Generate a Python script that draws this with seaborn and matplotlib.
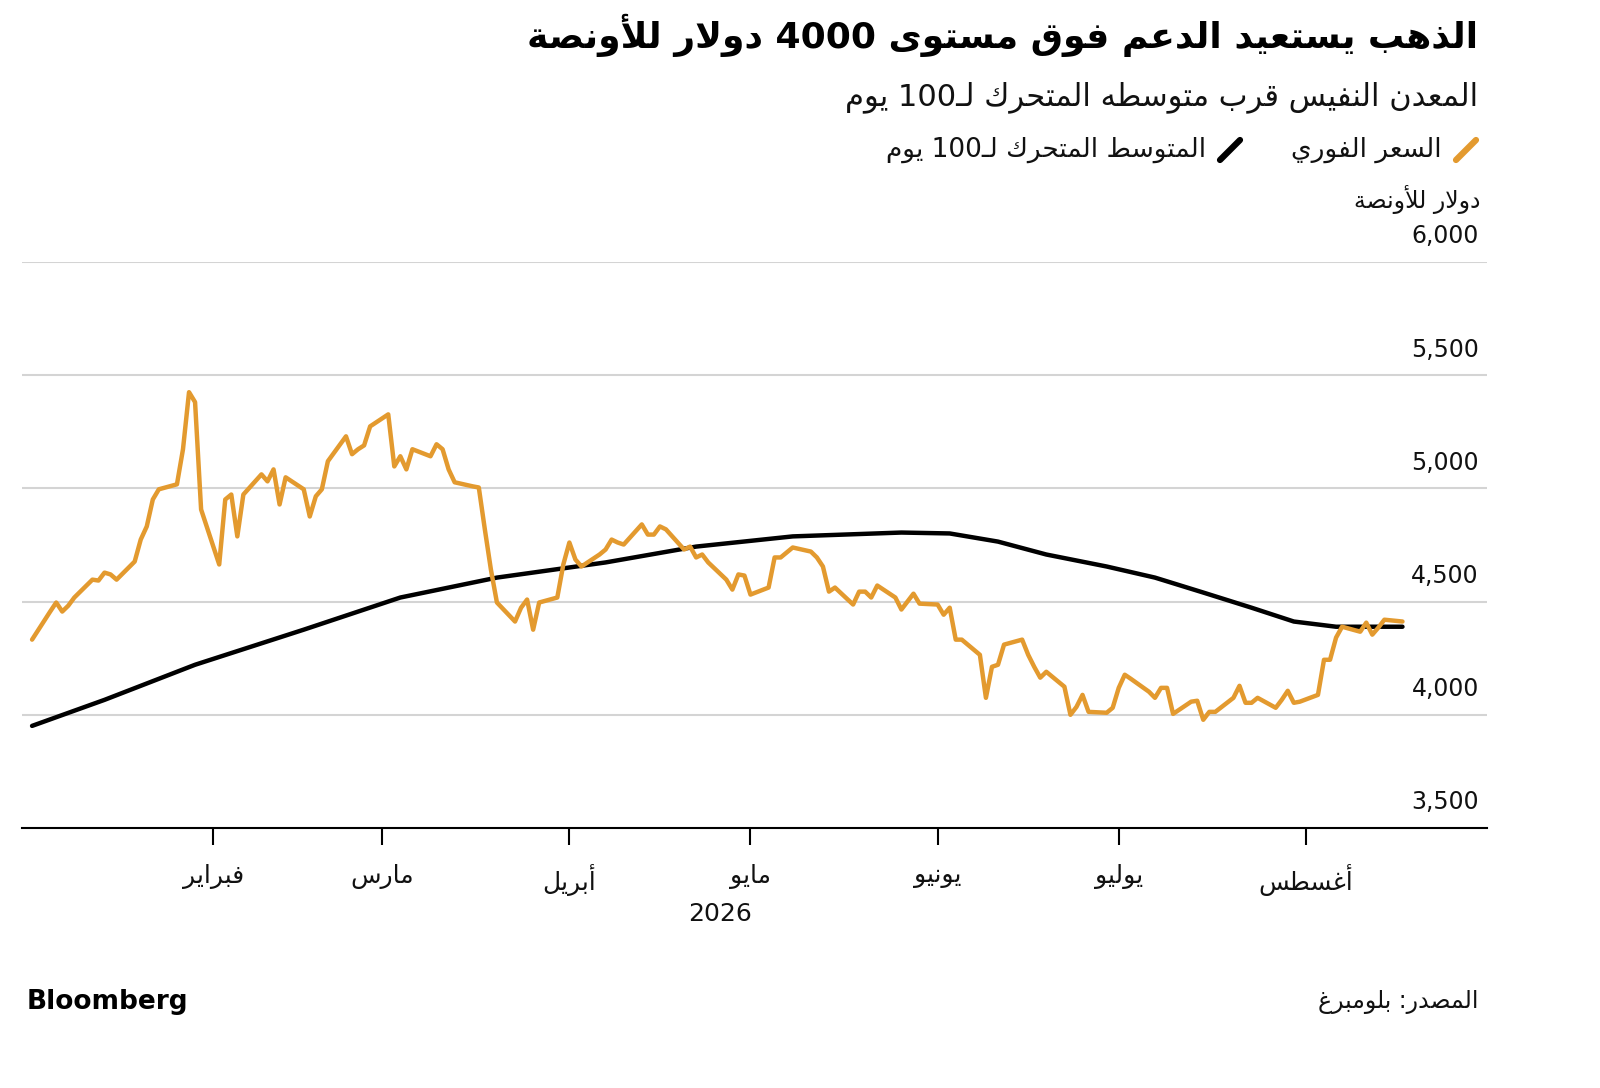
import re
import matplotlib
matplotlib.use("Agg")
import matplotlib.pyplot as plt
from matplotlib.lines import Line2D
import seaborn as sns
import pandas as pd

# Data
###############################################################################

spot = [4332, 4456, 4496, 4456, 4482, 4518, 4597, 4593, 4628, 4620,
        4597, 4677, 4774, 4832, 4951, 4996, 5018, 5173, 5425, 5381,
        4907, 4664, 4951, 4973, 4788, 4973, 5062, 5031, 5084, 4929,
        5049, 4996, 4876, 4965, 4996, 5120, 5230, 5151, 5173, 5190,
        5274, 5327, 5097, 5142, 5084, 5173, 5142, 5195, 5173, 5084,
        5027, 5009, 5004, 4819, 4642, 4496, 4412, 4473, 4509, 4376,
        4496, 4518, 4664, 4761, 4686, 4655, 4708, 4730, 4774, 4761,
        4752, 4841, 4796, 4796, 4832, 4819, 4730, 4743, 4695, 4708,
        4673, 4597, 4553, 4620, 4615, 4531, 4562, 4695, 4695, 4717,
        4739, 4721, 4695, 4655, 4544, 4562, 4487, 4544, 4544, 4518,
        4571, 4518, 4465, 4500, 4535, 4491, 4487, 4442, 4473, 4332,
        4332, 4265, 4075, 4212, 4221, 4310, 4332, 4265, 4212, 4164,
        4190, 4124, 4000, 4035, 4088, 4013, 4009, 4031, 4119, 4177,
        4159, 4102, 4075, 4119, 4119, 4004, 4058, 4062, 3978, 4013,
        4013, 4075, 4128, 4053, 4053, 4075, 4031, 4066, 4106, 4053,
        4058, 4088, 4243, 4243, 4341, 4389, 4367, 4407, 4354, 4385,
        4420, 4412]
ma_idx = [0, 8, 19, 31, 43, 55, 67, 78, 90, 102, 108, 114, 120, 126, 132,
          138, 144, 149, 154, 161]
ma_vals = [3951, 4066, 4221, 4376, 4518, 4606, 4673, 4743, 4788, 4805,
           4801, 4765, 4708, 4655, 4606, 4540, 4473, 4412, 4389, 4389]
months = ['فبراير', 'مارس', 'أبريل', 'مايو', 'يونيو', 'يوليو', 'أغسطس']
month_starts = ['2026-02-01', '2026-03-01', '2026-04-01', '2026-05-01',
                '2026-06-01', '2026-07-01', '2026-08-01']
yticks = [3500, 4000, 4500, 5000, 5500, 6000]

dates = pd.bdate_range('2026-01-02', periods=len(spot))
df_spot = pd.DataFrame({'date': dates, 'price': spot})
df_ma = pd.DataFrame({'date': dates[ma_idx], 'price': ma_vals})

# Minimal Arabic shaping (no external reshaper available)
###############################################################################

FORMS = {
    'ا': (0xFE8D, 0xFE8E), 'أ': (0xFE83, 0xFE84), 'ة': (0xFE93, 0xFE94),
    'د': (0xFEA9, 0xFEAA), 'ذ': (0xFEAB, 0xFEAC), 'ر': (0xFEAD, 0xFEAE),
    'ز': (0xFEAF, 0xFEB0), 'و': (0xFEED, 0xFEEE), 'ى': (0xFEEF, 0xFEF0),
    'ب': (0xFE8F, 0xFE90, 0xFE91, 0xFE92), 'ت': (0xFE95, 0xFE96, 0xFE97, 0xFE98),
    'ح': (0xFEA1, 0xFEA2, 0xFEA3, 0xFEA4), 'س': (0xFEB1, 0xFEB2, 0xFEB3, 0xFEB4),
    'ص': (0xFEB9, 0xFEBA, 0xFEBB, 0xFEBC), 'ط': (0xFEC1, 0xFEC2, 0xFEC3, 0xFEC4),
    'ع': (0xFEC9, 0xFECA, 0xFECB, 0xFECC), 'غ': (0xFECD, 0xFECE, 0xFECF, 0xFED0),
    'ف': (0xFED1, 0xFED2, 0xFED3, 0xFED4), 'ق': (0xFED5, 0xFED6, 0xFED7, 0xFED8),
    'ك': (0xFED9, 0xFEDA, 0xFEDB, 0xFEDC), 'ل': (0xFEDD, 0xFEDE, 0xFEDF, 0xFEE0),
    'م': (0xFEE1, 0xFEE2, 0xFEE3, 0xFEE4), 'ن': (0xFEE5, 0xFEE6, 0xFEE7, 0xFEE8),
    'ه': (0xFEE9, 0xFEEA, 0xFEEB, 0xFEEC), 'ي': (0xFEF1, 0xFEF2, 0xFEF3, 0xFEF4),
}
LAMALEF = {'ا': (0xFEFB, 0xFEFC), 'أ': (0xFEF7, 0xFEF8)}


def ar(s):
    dual = lambda ch: (ch in FORMS and len(FORMS[ch]) == 4) or ch == 'ـ'
    is_ar = lambda ch: ch in FORMS or ch == 'ـ'
    out, i, n = [], 0, len(s)
    while i < n:
        c = s[i]
        pj = i > 0 and dual(s[i - 1])
        if c == 'ل' and i + 1 < n and s[i + 1] in LAMALEF:
            iso, fin = LAMALEF[s[i + 1]]
            out.append(chr(fin if pj else iso))
            i += 2
            continue
        if c in FORMS:
            f = FORMS[c]
            nj = len(f) == 4 and i + 1 < n and is_ar(s[i + 1])
            if pj and nj:
                out.append(chr(f[3]))
            elif pj:
                out.append(chr(f[1]))
            elif nj:
                out.append(chr(f[2]))
            else:
                out.append(chr(f[0]))
        else:
            out.append(c)
        i += 1
    tokens = re.findall(r'[0-9][0-9,.]*|.', ''.join(out))
    return ''.join(reversed(tokens))

# Plot
###############################################################################

sns.set_style('white')
plt.rcParams['font.family'] = ['DejaVu Sans']
orange = '#E39A2F'
ink = '#111111'

fig = plt.figure(figsize=(16, 10.88), dpi=100)
ax = fig.add_axes([22 / 1600, 1 - 828 / 1088, 1465 / 1600, 566 / 1088])

sns.lineplot(data=df_ma, x='date', y='price', ax=ax, color='black', lw=3.2)
sns.lineplot(data=df_spot, x='date', y='price', ax=ax, color=orange, lw=3.2)

ax.set_xlim(pd.Timestamp('2025-12-31 08:00'), pd.Timestamp('2026-08-31'))
ax.set_ylim(3500, 6000)
for v in yticks:
    if v > 3500:
        ax.axhline(v, color='#d4d4d4', lw=1.5, zorder=0)
    ax.text(0.9945, v + 60, f'{v:,}', transform=ax.get_yaxis_transform(),
            ha='right', va='bottom', fontsize=17, color=ink)
ax.set_yticks([])
for s in ['top', 'left', 'right']:
    ax.spines[s].set_visible(False)
ax.spines['bottom'].set_color('black')
ax.spines['bottom'].set_linewidth(1.5)
ax.set_xticks([pd.Timestamp(d) for d in month_starts])
ax.set_xticklabels([ar(m) for m in months], fontsize=18, color=ink)
ax.tick_params(axis='x', bottom=True, direction='out', length=12, width=1.5,
               pad=14, color='black')
ax.set_xlabel('')
ax.set_ylabel('')
ax.text(pd.Timestamp('2026-04-26'), -0.13, '2026', transform=ax.get_xaxis_transform(),
        ha='center', va='top', fontsize=18, color=ink)

# Titles, legend, footer
fig.text(1478 / 1600, 1 - 35 / 1088, ar('الذهب يستعيد الدعم فوق مستوى 4000 دولار للأونصة'),
         ha='right', va='center', fontsize=26, fontweight='bold', color='black')
fig.text(1478 / 1600, 1 - 97 / 1088, ar('المعدن النفيس قرب متوسطه المتحرك لـ100 يوم'),
         ha='right', va='center', fontsize=22, color=ink)
fig.add_artist(Line2D([1456 / 1600, 1476 / 1600], [1 - 160 / 1088, 1 - 140 / 1088],
                      color=orange, lw=4.5, transform=fig.transFigure))
fig.text(1442 / 1600, 1 - 150 / 1088, ar('السعر الفوري'), ha='right', va='center',
         fontsize=19, color=ink)
fig.add_artist(Line2D([1220 / 1600, 1240 / 1600], [1 - 160 / 1088, 1 - 140 / 1088],
                      color='black', lw=4.5, transform=fig.transFigure))
fig.text(1206 / 1600, 1 - 150 / 1088, ar('المتوسط المتحرك لـ100 يوم'),
         ha='right', va='center', fontsize=19, color=ink)
fig.text(1480 / 1600, 1 - 200 / 1088, ar('دولار للأونصة'), ha='right', va='center',
         fontsize=17, color=ink)
fig.text(1478 / 1600, 1 - 1002 / 1088, ar('المصدر: بلومبرغ'), ha='right', va='center',
         fontsize=17, color=ink)
fig.text(27 / 1600, 1 - 1002 / 1088, 'Bloomberg', ha='left', va='center',
         fontsize=19, fontweight='bold', color='black')

fig.savefig('out.png', dpi=100, facecolor='white')
